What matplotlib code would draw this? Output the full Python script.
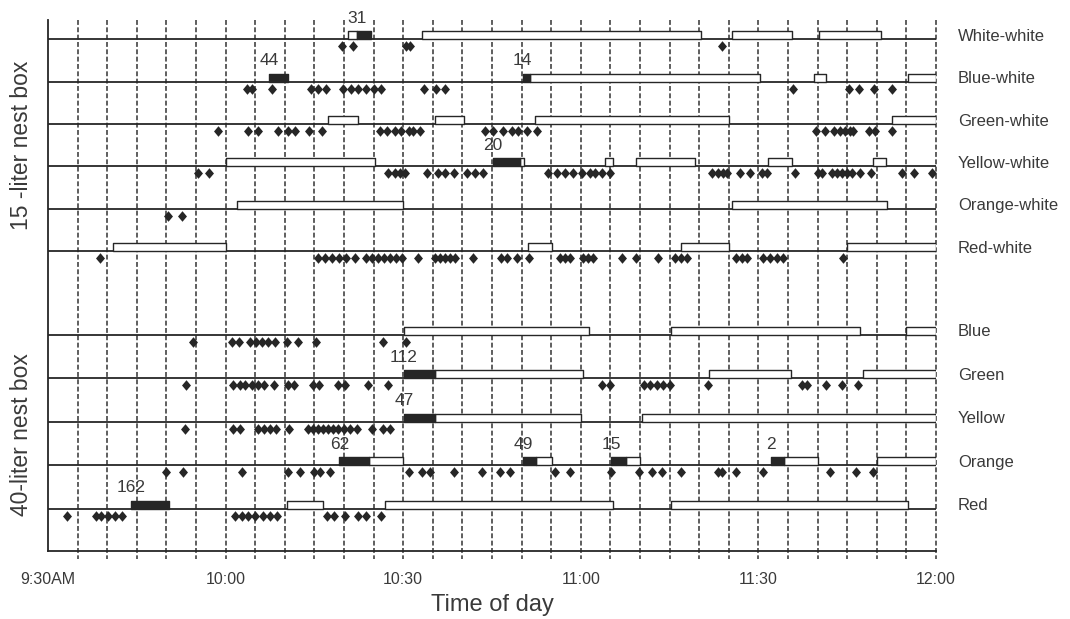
import matplotlib
matplotlib.use("Agg")
import matplotlib.pyplot as plt
from matplotlib.transforms import blended_transform_factory

plt.rcParams['font.family'] = ['Liberation Sans', 'DejaVu Sans']

# ---------------- data (times in minutes after 9:30 AM) ----------------
TICK_POS = [0, 30, 60, 90, 120, 150]
TICK_LABELS = ["9:30AM", "10:00", "10:30", "11:00", "11:30", "12:00"]

UPPER_ROWS = ["White-white", "Blue-white", "Green-white", "Yellow-white", "Orange-white", "Red-white"]
LOWER_ROWS = ["Blue", "Green", "Yellow", "Orange", "Red"]

WW_OPEN = [(50.7, 52.2), (63.2, 110.3), (115.5, 125.7), (130.3, 140.7)]
WW_FILLED = [(52.2, 54.6)]
WW_COUNTS = ["31"]
WW_VISITS = [49.6, 51.5, 60.5, 61.1, 113.8]

BW_OPEN = [(81.4, 120.3), (129.4, 131.4), (145.2, 150)]
BW_FILLED = [(37.4, 40.6), (80.2, 81.4)]
BW_COUNTS = ["44", "14"]
BW_VISITS = [33.6, 34.5, 37.8, 44.4, 45.6, 47.0, 49.8, 51.2, 52.4, 53.7, 55.0, 56.3,
             63.5, 65.5, 67.1, 125.8, 135.3, 137.0, 139.5, 142.6]

GW_OPEN = [(47.3, 52.4), (65.4, 70.3), (82.3, 115.1), (142.5, 150)]
GW_FILLED = []
GW_COUNTS = []
GW_VISITS = [28.8, 33.8, 35.5, 38.9, 40.6, 41.7, 44.1, 46.2, 56.1, 57.2, 58.6, 59.7,
             60.9, 61.7, 62.8, 73.8, 75.2, 76.9, 78.3, 79.4, 80.9, 82.6, 129.8, 131.3,
             132.7, 133.8, 134.6, 135.5, 136.0, 138.6, 139.7, 142.5]

YW_OPEN = [(30.1, 55.2), (79.8, 80.4), (94.1, 95.4), (99.4, 109.3), (121.7, 125.6), (139.4, 141.6)]
YW_FILLED = [(75.2, 79.8)]
YW_COUNTS = ["20"]
YW_VISITS = [25.4, 27.2, 57.5, 58.6, 59.5, 60.3, 64.0, 65.9, 67.1, 68.5, 70.7, 72.1,
             73.5, 84.5, 85.9, 87.3, 88.7, 90.2, 91.6, 92.4, 93.5, 94.9, 112.1, 113.2,
             114.1, 114.7, 116.9, 118.6, 120.6, 121.4, 126.2, 130.1, 130.7, 132.4, 133.2,
             134.1, 134.9, 135.8, 137.2, 139.1, 144.2, 146.2, 149.3]

OW_OPEN = [(32.0, 59.9), (115.5, 141.7)]
OW_FILLED = []
OW_COUNTS = []
OW_VISITS = [20.3, 22.6]

RW_OPEN = [(11.0, 30.1), (81.1, 85.1), (107.0, 115.0), (134.9, 150)]
RW_FILLED = []
RW_COUNTS = []
RW_VISITS = [8.8, 45.6, 46.8, 48.0, 49.2, 50.3, 51.9, 53.7, 54.7, 55.7, 56.8, 57.8,
             58.8, 59.8, 62.5, 65.4, 66.2, 67.1, 67.9, 68.8, 71.8, 76.6, 77.5, 79.2,
             81.3, 86.5, 87.3, 88.2, 90.4, 91.3, 92.1, 96.9, 99.4, 103.1, 105.9, 107.0,
             107.9, 116.3, 117.2, 118.0, 120.8, 122.0, 123.1, 124.2, 134.3]

B_OPEN = [(60.1, 91.4), (105.2, 137.2), (145.0, 150)]
B_FILLED = []
B_COUNTS = []
B_VISITS = [24.5, 31.1, 32.3, 34.1, 35.1, 36.1, 37.2, 38.3, 40.4, 42.2, 45.3, 56.6, 60.5]

G_OPEN = [(65.4, 90.4), (111.7, 125.5), (137.6, 150)]
G_FILLED = [(60.1, 65.4)]
G_COUNTS = ["112"]
G_VISITS = [23.3, 31.3, 32.4, 33.3, 34.4, 35.5, 36.5, 38.1, 40.6, 41.6, 44.8, 45.7,
            49.0, 50.2, 54.1, 57.5, 93.5, 94.9, 100.6, 101.7, 102.8, 103.9, 105.1,
            111.5, 127.3, 128.2, 131.5, 134.1, 136.9]

Y_OPEN = [(65.4, 90.0), (100.3, 150)]
Y_FILLED = [(60.1, 65.4)]
Y_COUNTS = ["47"]
Y_VISITS = [23.1, 31.3, 32.4, 35.5, 36.5, 37.5, 38.5, 40.7, 43.9, 44.8, 45.6, 46.5,
            47.3, 48.1, 49.0, 50.0, 51.0, 52.2, 54.7, 56.6, 57.8]

O_OPEN = [(54.3, 60.0), (82.4, 85.1), (97.7, 100.0), (124.3, 130.0), (140.1, 150)]
O_FILLED = [(49.2, 54.3), (80.3, 82.4), (95.1, 97.7), (122.2, 124.3)]
O_COUNTS = ["62", "49", "15", "2"]
O_VISITS = [19.9, 22.8, 32.7, 40.6, 42.6, 44.9, 45.9, 47.6, 60.9, 63.1, 64.5, 68.5,
            73.3, 76.4, 78.0, 85.6, 88.2, 95.1, 99.8, 102.0, 103.7, 107.0, 113.2,
            113.8, 116.3, 120.8, 132.1, 136.5, 139.4]

R_OPEN = [(40.3, 46.5), (56.9, 95.4), (105.2, 145.3)]
R_FILLED = [(14.1, 20.4)]
R_COUNTS = ["162"]
R_VISITS = [3.2, 8.1, 9.0, 10.1, 11.3, 12.5, 31.6, 32.7, 33.8, 35.0, 36.4, 37.5, 38.6,
            47.1, 48.3, 50.2, 52.4, 53.7, 56.3]

UPPER_DATA = [(WW_OPEN, WW_FILLED, WW_COUNTS, WW_VISITS),
              (BW_OPEN, BW_FILLED, BW_COUNTS, BW_VISITS),
              (GW_OPEN, GW_FILLED, GW_COUNTS, GW_VISITS),
              (YW_OPEN, YW_FILLED, YW_COUNTS, YW_VISITS),
              (OW_OPEN, OW_FILLED, OW_COUNTS, OW_VISITS),
              (RW_OPEN, RW_FILLED, RW_COUNTS, RW_VISITS)]
LOWER_DATA = [(B_OPEN, B_FILLED, B_COUNTS, B_VISITS),
              (G_OPEN, G_FILLED, G_COUNTS, G_VISITS),
              (Y_OPEN, Y_FILLED, Y_COUNTS, Y_VISITS),
              (O_OPEN, O_FILLED, O_COUNTS, O_VISITS),
              (R_OPEN, R_FILLED, R_COUNTS, R_VISITS)]

# ---------------- layout ----------------
W, H = 1070, 619
fig = plt.figure(figsize=(W / 100, H / 100), dpi=100)
AX_L, AX_R, AX_T, AX_B = 48, 936, 20, 550.7
ax = fig.add_axes([AX_L / W, 1 - AX_B / H, (AX_R - AX_L) / W, (AX_B - AX_T) / H])
ax.set_xlim(0, 150)
ax.set_ylim(AX_B, AX_T)   # y in pixel-like units, top to bottom

INK = '#262626'
TXT = '#3a3a3a'
BOX_H = 8
DOT_OFF = 7.0
diamond = [(0, 1), (0.85, 0), (0, -1), (-0.85, 0), (0, 1)]

upper_y = [39.3 + 42.35 * i for i in range(len(UPPER_ROWS))]
lower_y = [335.0 + 43.4 * i for i in range(len(LOWER_ROWS))]

# dashed 5-minute gridlines
ax.vlines(list(range(5, 151, 5)), AX_T, AX_B + 8, colors='#333333', lw=1.1,
          linestyles=(0, (3.2, 1.6)), clip_on=False, zorder=1)

lab_tr = blended_transform_factory(ax.transAxes, ax.transData)
label_x = 1 + (958 - AX_R) / (AX_R - AX_L)

for names, ys, data in [(UPPER_ROWS, upper_y, UPPER_DATA), (LOWER_ROWS, lower_y, LOWER_DATA)]:
    for name, y, (opn, fil, cnt, vis) in zip(names, ys, data):
        ax.hlines(y, 0, 150, colors=INK, lw=1.3, zorder=2)
        if opn:
            ax.broken_barh([(s, e - s) for s, e in opn], (y - BOX_H, BOX_H),
                           facecolors='white', edgecolors=INK, linewidth=1.0, zorder=3)
        if fil:
            ax.broken_barh([(s, e - s) for s, e in fil], (y - BOX_H, BOX_H),
                           facecolors=INK, edgecolors=INK, linewidth=1.0, zorder=3)
            for (s, e), c in zip(fil, cnt):
                ax.text(s, y - BOX_H - 13, c, ha='center', va='center',
                        fontsize=12.5, color=TXT, zorder=5)
        ax.plot(vis, [y + DOT_OFF] * len(vis), ls='none', marker=diamond,
                ms=7.6, color=INK, mew=0, zorder=4, clip_on=False)
        ax.text(label_x, y - 3, name, transform=lab_tr, ha='left', va='center',
                fontsize=12, color=TXT)

# axes styling
for sp in ['top', 'right']:
    ax.spines[sp].set_visible(False)
for sp in ['left', 'bottom']:
    ax.spines[sp].set_color(INK)
    ax.spines[sp].set_linewidth(1.3)
ax.set_yticks([])
ax.set_xticks(TICK_POS)
ax.set_xticklabels(TICK_LABELS)
ax.tick_params(axis='x', length=0, pad=15, labelsize=11.5, labelcolor=TXT)

fig.text((AX_L + AX_R) / 2 / W, 1 - 605 / H, "Time of day", ha='center', va='center',
         fontsize=17, color=TXT)
fig.text(22 / W, 1 - 145 / H, "15 -liter nest box", rotation=90, ha='center',
         va='center', fontsize=16.5, color=TXT)
fig.text(22 / W, 1 - 435 / H, "40-liter nest box", rotation=90, ha='center',
         va='center', fontsize=16.5, color=TXT)

fig.savefig("out.png", dpi=100)
